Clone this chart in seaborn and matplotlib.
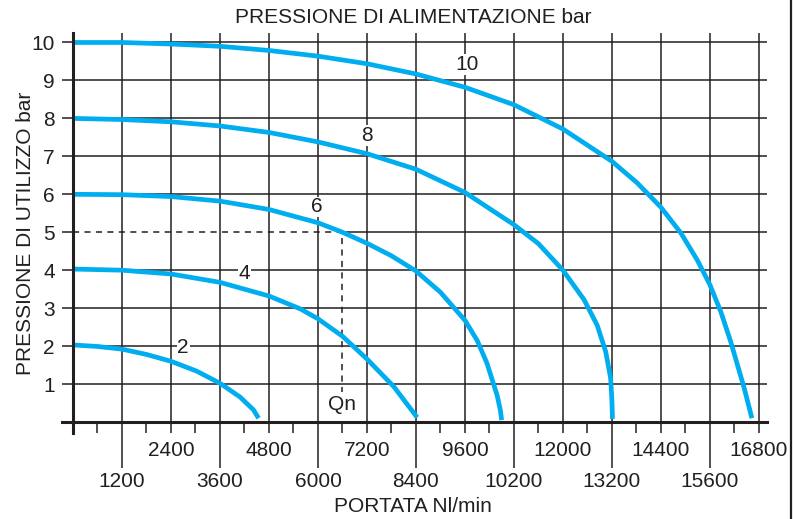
import numpy as np
import pandas as pd
import seaborn as sns
import matplotlib
matplotlib.use('Agg')
from matplotlib import pyplot as plt
from matplotlib.lines import Line2D

p2_x = [0, 600, 1200, 1800, 2400, 3030, 3600, 4090, 4420, 4545]
p2_y = [2.03, 1.99, 1.92, 1.78, 1.6, 1.34, 1.02, 0.66, 0.32, 0.1]
p4_x = [0, 1200, 2400, 3600, 4800, 5570, 6000, 6600, 7200, 7860, 8430]
p4_y = [4.03, 4.0, 3.9, 3.68, 3.32, 2.98, 2.72, 2.26, 1.66, 0.93, 0.12]
p6_x = [0, 1200, 2400, 3600, 4800, 6000, 6600, 7200, 7800, 8400, 9000, 9600, 9900, 10140,
        10390, 10470, 10500]
p6_y = [6.0, 5.99, 5.94, 5.82, 5.6, 5.25, 5.0, 4.71, 4.38, 3.98, 3.42, 2.68, 2.15, 1.55,
        0.7, 0.3, 0.05]
p8_x = [0, 1200, 2400, 3600, 4800, 6000, 7200, 8400, 9600, 10800, 11400, 12000, 12520,
        12840, 13050, 13170, 13200, 13215]
p8_y = [8.0, 7.97, 7.91, 7.8, 7.63, 7.38, 7.07, 6.66, 6.05, 5.2, 4.7, 4.0, 3.22,
        2.55, 1.85, 1.15, 0.6, 0.08]
p10_x = [0, 1200, 2400, 3600, 4800, 6000, 7200, 8400, 9600, 10800, 12000, 13200, 13820, 14400,
         14890, 15290, 15600, 15870, 16110, 16440, 16630]
p10_y = [10.0, 10.0, 9.96, 9.9, 9.79, 9.64, 9.44, 9.17, 8.82, 8.36, 7.72, 6.87, 6.3, 5.66,
         4.98, 4.27, 3.62, 2.9, 2.12, 0.9, 0.1]

# etichette delle curve (pressione di alimentazione)
curve_names = ['2', '4', '6', '8', '10']
label_x = [2700, 4200, 5984, 7200, 9660]
label_y = [1.95, 3.9, 5.67, 7.55, 9.42]

# punto nominale
qn_x = 6600
qn_p = 5

# etichette asse x su due righe (il 10200 e' cosi' nell'originale)
row1_ticks = [2400, 4800, 7200, 9600, 12000, 14400, 16800]
row1_labels = ['2400', '4800', '7200', '9600', '12000', '14400', '16800']
row2_ticks = [1200, 3600, 6000, 8400, 10800, 13200, 15600]
row2_labels = ['1200', '3600', '6000', '8400', '10200', '13200', '15600']
y_ticks = [1, 2, 3, 4, 5, 6, 7, 8, 9, 10]

blue = '#00aeef'
ink = '#231f20'

sns.set_theme(style='ticks')
plt.rcParams['font.family'] = ['Liberation Sans', 'DejaVu Sans']
plt.rcParams['lines.solid_capstyle'] = 'butt'
plt.rcParams['lines.solid_joinstyle'] = 'round'

frames = []
for name, xs, ys in zip(curve_names, [p2_x, p4_x, p6_x, p8_x, p10_x], [p2_y, p4_y, p6_y, p8_y, p10_y]):
    frames.append(pd.DataFrame({'portata': xs, 'pressione': ys, 'curva': name}))
df = pd.concat(frames, ignore_index=True)

fig = plt.figure(figsize=(7.93, 5.19), dpi=100)
ax = fig.add_axes([73 / 793, 1 - 422 / 519, 694 / 793, 389 / 519])

x_max = 17000
y_max = 10.25

# griglia
grid_x = np.arange(1200, 16801, 1200)
ax.vlines(grid_x, 0, y_max, color=ink, lw=1.1, zorder=1)
grid_y = [y for y in y_ticks if y != qn_p]
ax.hlines(grid_y, 0, x_max, color=ink, lw=1.1, zorder=1)
ax.hlines(qn_p, qn_x, x_max, color=ink, lw=1.1, zorder=1)

# Qn tratteggiato
ax.plot([0, qn_x, qn_x], [qn_p, qn_p, 0], color=ink, lw=1.1, ls=(0, (4, 3.5)), zorder=1)

sns.lineplot(data=df, x='portata', y='pressione', hue='curva', palette=[blue] * 5,
             legend=False, lw=3.4, sort=False, estimator=None, ax=ax, zorder=2)

for name, lx, ly in zip(curve_names, label_x, label_y):
    ax.text(lx, ly, name, ha='center', va='center', fontsize=15, color=ink, zorder=3,
            bbox=dict(facecolor='white', edgecolor='none', pad=0.5))
ax.text(qn_x, 0.45, 'Qn', ha='center', va='center', fontsize=15, color=ink, zorder=3,
        bbox=dict(facecolor='white', edgecolor='none', pad=2.5))

ax.set_xlim(0, x_max)
ax.set_ylim(0, y_max)
sns.despine(ax=ax)
for side in ['left', 'bottom']:
    ax.spines[side].set_linewidth(2.2)
    ax.spines[side].set_color(ink)
ax.spines['left'].set_bounds(-0.28, y_max)
ax.spines['bottom'].set_bounds(-280, x_max)

# tacche lunghe con etichette in seconda riga, tacche corte ogni 600
short_ticks = [v for v in np.arange(600, 16801, 600) if v not in row2_ticks]
short_labels = [str(v) if v in row1_ticks else '' for v in short_ticks]
ax.set_xticks(row2_ticks, row2_labels)
ax.set_xticks(short_ticks, short_labels, minor=True)
ax.tick_params(axis='x', which='major', length=33, width=1.1, color=ink, pad=3,
               labelsize=15, labelcolor=ink)
ax.tick_params(axis='x', which='minor', length=8, width=1.1, color=ink, pad=6,
               labelsize=15, labelcolor=ink)
ax.set_yticks(y_ticks, [str(v) for v in y_ticks])
ax.tick_params(axis='y', length=8, width=1.1, color=ink, pad=5, labelsize=15, labelcolor=ink)

ax.set_xlabel('PORTATA Nl/min', fontsize=15, color=ink)
ax.xaxis.set_label_coords(0.49, -0.218)
ax.xaxis.label.set_va('center')
ax.set_ylabel('PRESSIONE DI UTILIZZO bar', fontsize=15, color=ink)
ax.yaxis.set_label_coords(-0.069, 0.486)
ax.yaxis.label.set_va('center')
ax.text(0.49, 1.041, 'PRESSIONE DI ALIMENTAZIONE bar', transform=ax.transAxes, ha='center',
        va='center', fontsize=15, color=ink)

# bordo destro della tavola
fig.add_artist(Line2D([0.9975, 0.9975], [0, 1], transform=fig.transFigure, color=ink, lw=1.6))

fig.savefig('out.png', dpi=100)
